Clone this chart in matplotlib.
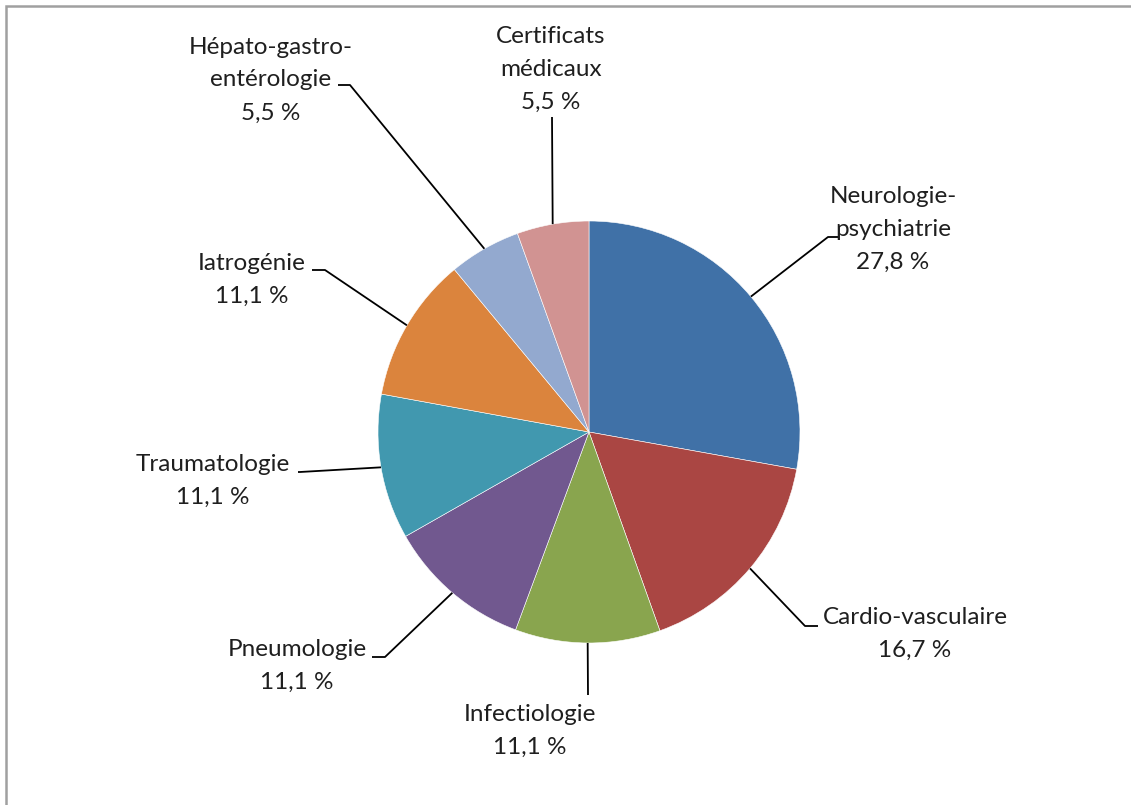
import numpy as np
import matplotlib.pyplot as plt
from matplotlib.patches import Rectangle

# ======================================================
# Data
# ======================================================

categories = [
    "Neurologie-\npsychiatrie",
    "Cardio-vasculaire",
    "Infectiologie",
    "Pneumologie",
    "Traumatologie",
    "Iatrogénie",
    "Hépato-gastro-\nentérologie",
    "Certificats\nmédicaux",
]
shares = [27.8, 16.7, 11.1, 11.1, 11.1, 11.1, 5.5, 5.5]
share_labels = ["27,8 %", "16,7 %", "11,1 %", "11,1 %", "11,1 %", "11,1 %", "5,5 %", "5,5 %"]

colors = ["#4071A7", "#AA4643", "#89A54E", "#71588F",
          "#4198AF", "#DB843D", "#93A9CF", "#D19392"]

# label layout in pixel coords (y down): elbow of leader, end of leader, text centre
elbows = [(828, 237), (805, 626), (588, 695), (385, 657),
          (300, 472), (325, 270), (350, 85), (552, 117)]
ends = [(838, 237), (818, 626), (588, 695), (372, 657),
        (298, 472), (312, 270), (338, 85), (552, 117)]
text_pos = [(893, 229), (915, 634), (530, 731), (297, 666),
            (213, 481), (252, 280), (271, 80), (551, 69)]

W, H = 1131, 805
cx, cy, radius = 589, 432, 211

# ======================================================
# Figure
# ======================================================

fig = plt.figure(figsize=(W / 100, H / 100), dpi=100)
ax = fig.add_axes([0, 0, 1, 1])

wedges, _ = ax.pie(
    shares,
    colors=colors,
    startangle=90,
    counterclock=False,
    center=(cx, H - cy),
    radius=radius,
    wedgeprops=dict(edgecolor="white", linewidth=0.4),
    frame=True,
)
ax.set_xlim(0, W)
ax.set_ylim(0, H)
ax.set_aspect("equal")
ax.axis("off")

for w, elb, end, tp, name, lab in zip(wedges, elbows, ends, text_pos, categories, share_labels):
    mid = np.deg2rad((w.theta1 + w.theta2) / 2)
    x0 = cx + radius * np.cos(mid)
    y0 = (H - cy) + radius * np.sin(mid)
    ax.plot([x0, elb[0], end[0]], [y0, H - elb[1], H - end[1]],
            color="black", lw=1.3, solid_capstyle="butt")
    ax.text(tp[0], H - tp[1], name + "\n" + lab, ha="center", va="center",
            fontsize=17.5, family="Lato", color="#1F1F1F", linespacing=1.7)

# grey frame (right and bottom edges fall outside the picture)
fig.patches.append(Rectangle((6 / W, -0.05), 1.1, 1 - 6 / H + 0.05,
                             transform=fig.transFigure, fill=False,
                             edgecolor="#A0A0A0", linewidth=1.8))

plt.savefig("out.png", dpi=100)
